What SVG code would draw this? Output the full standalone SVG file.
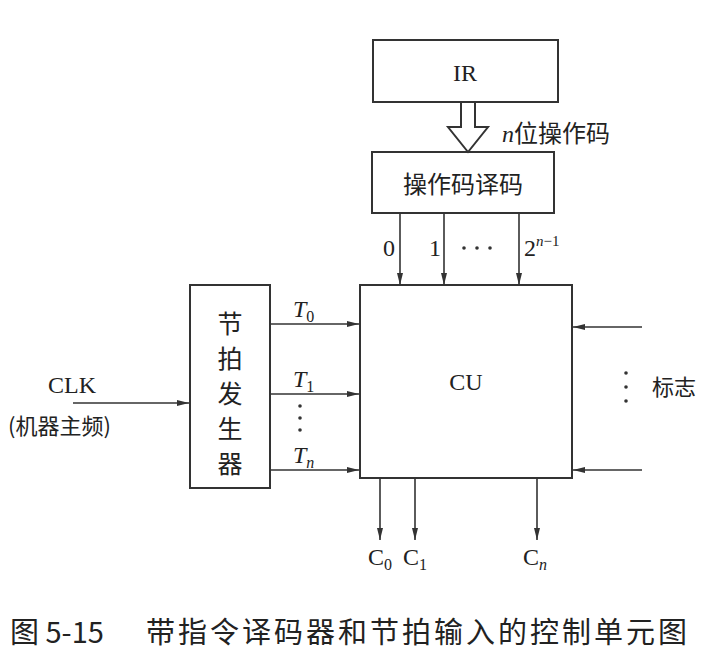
<svg xmlns="http://www.w3.org/2000/svg" width="707" height="664" viewBox="0 0 707 664">
<style>
.b{fill:none;stroke:#333;stroke-width:2}
.l{stroke:#333;stroke-width:1.6;fill:none}
text{font-family:"Liberation Serif","Noto Sans CJK SC",serif;fill:#222}
.c{font-family:"Noto Sans CJK SC",sans-serif}
</style>
<defs><marker id="a" markerWidth="12" markerHeight="8" refX="12" refY="4" orient="auto" markerUnits="userSpaceOnUse"><path d="M0,1 L12,4 L0,7 Z" fill="#333"/></marker></defs>
<rect width="707" height="664" fill="#fff"/>
<g id="ir"><rect class="b" x="373" y="40" width="185" height="62"/><text x="465" y="81" font-size="24" text-anchor="middle">IR</text></g>
<g id="dec"><rect class="b" x="372" y="152" width="182" height="61"/><text class="c" x="463" y="193" font-size="24" text-anchor="middle">操作码译码</text></g>
<g id="timer"><rect class="b" x="190" y="285" width="80" height="203"/>
<text class="c" font-size="25" text-anchor="middle"><tspan x="230" y="333">节</tspan><tspan x="230" y="368">拍</tspan><tspan x="230" y="403">发</tspan><tspan x="230" y="438">生</tspan><tspan x="230" y="473">器</tspan></text></g>
<g id="cu"><rect class="b" x="360" y="285" width="212" height="193"/><text x="466" y="390" font-size="24" text-anchor="middle">CU</text></g>
<g id="connectors">
<path class="b" d="M461,102 V127 H448 L468,152 L488,127 H475 V102"/>
<line class="l" x1="400" y1="213" x2="400" y2="285" marker-end="url(#a)"/>
<line class="l" x1="444" y1="213" x2="444" y2="285" marker-end="url(#a)"/>
<line class="l" x1="519" y1="213" x2="519" y2="285" marker-end="url(#a)"/>
<line class="l" x1="270" y1="324" x2="359" y2="324" marker-end="url(#a)"/>
<line class="l" x1="270" y1="394" x2="359" y2="394" marker-end="url(#a)"/>
<line class="l" x1="270" y1="470" x2="359" y2="470" marker-end="url(#a)"/>
<line class="l" x1="73" y1="403" x2="189" y2="403" marker-end="url(#a)"/>
<line class="l" x1="642" y1="327" x2="573" y2="327" marker-end="url(#a)"/>
<line class="l" x1="642" y1="470" x2="573" y2="470" marker-end="url(#a)"/>
<line class="l" x1="380" y1="478" x2="380" y2="540" marker-end="url(#a)"/>
<line class="l" x1="415" y1="478" x2="415" y2="540" marker-end="url(#a)"/>
<line class="l" x1="537" y1="478" x2="537" y2="540" marker-end="url(#a)"/>
</g>
<g id="dots" fill="#333">
<circle cx="300" cy="406" r="1.8"/><circle cx="300" cy="418" r="1.8"/><circle cx="300" cy="430" r="1.8"/>
<circle cx="626" cy="373" r="1.8"/><circle cx="626" cy="387" r="1.8"/><circle cx="626" cy="401" r="1.8"/>
<circle cx="464" cy="248" r="1.8"/><circle cx="477" cy="248" r="1.8"/><circle cx="490" cy="248" r="1.8"/>
</g>
<g id="labels" font-size="24">
<text x="502" y="142"><tspan font-style="italic">n</tspan><tspan class="c">位操作码</tspan></text>
<text x="383" y="256">0</text><text x="429" y="256">1</text>
<text x="524" y="256">2<tspan font-size="15" dy="-10" font-style="italic">n</tspan><tspan font-size="15">−1</tspan></text>
<text x="293" y="317" font-style="italic">T<tspan font-style="normal" font-size="16" dy="5">0</tspan></text>
<text x="293" y="387" font-style="italic">T<tspan font-style="normal" font-size="16" dy="5">1</tspan></text>
<text x="293" y="463" font-style="italic">T<tspan font-size="16" dy="5">n</tspan></text>
<text x="48" y="393">CLK</text>
<text x="8" y="434" class="c" font-size="22">(机器主频)</text>
<text x="652" y="395" class="c" font-size="22">标志</text>
<text x="368" y="565">C<tspan font-size="16" dy="5">0</tspan></text>
<text x="403" y="565">C<tspan font-size="16" dy="5">1</tspan></text>
<text x="523" y="565">C<tspan font-size="16" dy="5" font-style="italic">n</tspan></text>
<text x="10" y="643" class="c" font-size="29" fill="#333">图 5-15</text>
<text x="146" y="643" class="c" font-size="29" letter-spacing="3" fill="#333">带指令译码器和节拍输入的控制单元图</text>
</g>
</svg>
